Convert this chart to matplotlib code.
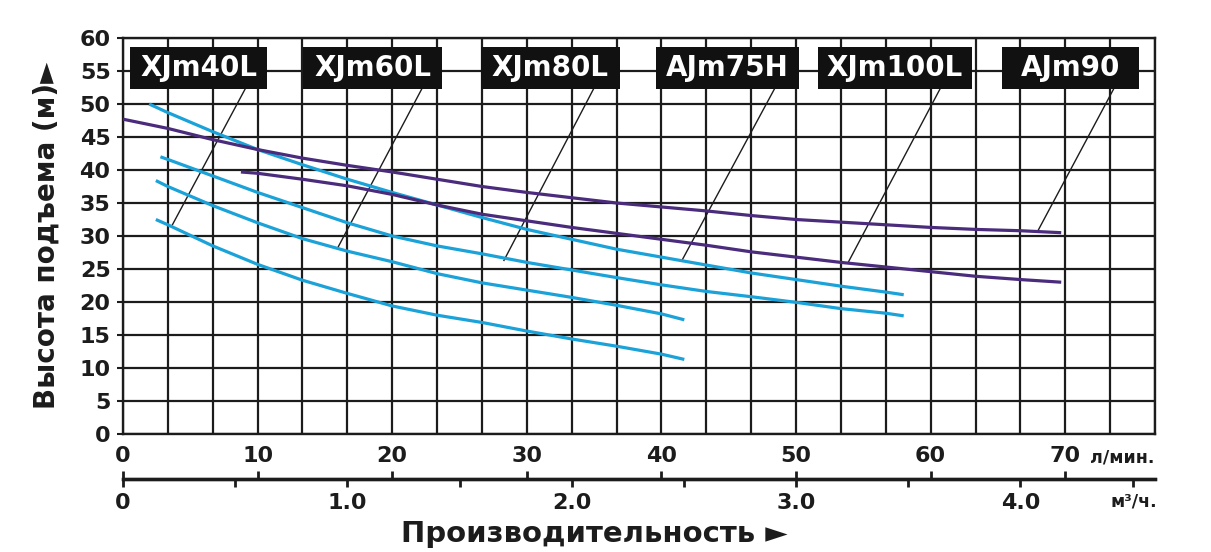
import numpy as np
import matplotlib
matplotlib.use("Agg")
import matplotlib.pyplot as plt
from matplotlib.patches import Rectangle

# ---------------- data (flow in l/min, head in m) ----------------
models = ["XJm40L", "XJm60L", "XJm80L", "AJm75H", "XJm100L", "AJm90"]

x_xjm40l = [2.44, 3.33, 6.67, 10, 13.33, 16.67, 20, 23.33, 26.67, 30, 33.33, 36.67, 40, 41.7]
y_xjm40l = [32.5, 31.7, 28.5, 25.7, 23.3, 21.3, 19.4, 18.0, 16.9, 15.6, 14.4, 13.3, 12.1, 11.3]

x_xjm60l = [2.44, 3.33, 6.67, 10, 13.33, 16.67, 20, 23.33, 26.67, 30, 33.33, 36.67, 40, 41.7]
y_xjm60l = [38.4, 37.5, 34.6, 32.0, 29.6, 27.7, 26.1, 24.3, 22.9, 21.8, 20.7, 19.5, 18.2, 17.3]

x_xjm80l = [2.78, 3.33, 6.67, 10, 13.33, 16.67, 20, 23.33, 26.67, 30, 33.33, 36.67, 40,
            43.33, 46.67, 50, 53.33, 56.67, 58.0]
y_xjm80l = [42.0, 41.6, 39.1, 36.6, 34.3, 32.0, 30.0, 28.5, 27.3, 26.0, 24.85, 23.7, 22.6,
            21.6, 20.8, 19.95, 19.0, 18.3, 17.9]

x_ajm75h = [1.94, 3.33, 6.67, 10, 13.33, 16.67, 20, 23.33, 26.67, 30, 33.33, 36.67, 40,
            43.33, 46.67, 50, 53.33, 56.67, 58.0]
y_ajm75h = [50.0, 48.7, 45.8, 43.1, 40.8, 38.6, 36.6, 34.7, 32.8, 31.0, 29.5, 28.0, 26.8,
            25.6, 24.4, 23.4, 22.4, 21.5, 21.1]

x_xjm100l = [8.76, 10, 13.33, 16.67, 20, 23.33, 26.67, 30, 33.33, 36.67, 40, 43.33, 46.67,
             50, 53.33, 56.67, 60, 63.33, 66.67, 69.7]
y_xjm100l = [39.7, 39.5, 38.6, 37.6, 36.3, 34.7, 33.3, 32.3, 31.3, 30.4, 29.5, 28.6, 27.6,
             26.8, 26.0, 25.3, 24.6, 23.9, 23.4, 23.0]

x_ajm90 = [0, 3.33, 6.67, 10, 13.33, 16.67, 20, 23.33, 26.67, 30, 33.33, 36.67, 40, 43.33,
           46.67, 50, 53.33, 56.67, 60, 63.33, 66.67, 69.7]
y_ajm90 = [47.7, 46.3, 44.6, 43.1, 41.8, 40.7, 39.7, 38.6, 37.5, 36.6, 35.8, 35.0, 34.4, 33.8,
           33.1, 32.5, 32.1, 31.7, 31.3, 31.0, 30.8, 30.5]

# leader-line anchor points on each curve (l/min, m)
leader_end_x = [3.67, 16.0, 28.3, 41.55, 53.9, 67.97]
leader_end_y = [31.7, 28.4, 26.3, 26.4, 26.1, 30.8]

y_ticks = list(range(0, 61, 5))
lpm_ticks = [0, 10, 20, 30, 40, 50, 60, 70]
m3h_ticks = [0, 1, 2, 3, 4]
m3h_labels = ["0", "1.0", "2.0", "3.0", "4.0"]
m3h_minor = [0.5, 1.5, 2.5, 3.5, 4.5]

# ---------------- styling / layout ----------------
CYAN = "#1ba2d8"
PURPLE = "#4a2b7c"
INK = "#1c1c1c"

series = [
    (x_xjm40l, y_xjm40l, CYAN),
    (x_xjm60l, y_xjm60l, CYAN),
    (x_xjm80l, y_xjm80l, CYAN),
    (x_ajm75h, y_ajm75h, CYAN),
    (x_xjm100l, y_xjm100l, PURPLE),
    (x_ajm90, y_ajm90, PURPLE),
]
box_left = [0.52, 13.4, 26.6, 39.6, 51.6, 65.3]
box_right = [10.7, 23.7, 36.9, 50.2, 63.1, 75.5]
box_bottom, box_top = 52.3, 58.7
leader_top_x = [9.08, 22.2, 34.96, 48.4, 60.7, 73.6]

W, H = 1211, 552
fig = plt.figure(figsize=(W / 100, H / 100), dpi=100)
ax = fig.add_axes([123 / W, (H - 434) / H, (1155 - 123) / W, (434 - 38) / H])

XMAX = 23 * 10 / 3
ax.set_xlim(0, XMAX)
ax.set_ylim(0, 60)

# grid
ax.set_xticks(lpm_ticks)
ax.set_xticks(np.arange(0, XMAX + 0.01, 10 / 3), minor=True)
ax.set_yticks(y_ticks)
ax.grid(True, which="both", axis="x", color=INK, lw=1.6, zorder=0)
ax.grid(True, which="major", axis="y", color=INK, lw=1.6, zorder=0)
ax.set_axisbelow(True)
for s in ax.spines.values():
    s.set_linewidth(1.7)
    s.set_color(INK)

ax.tick_params(axis="x", which="both", length=0, pad=9, labelsize=16, colors=INK)
ax.tick_params(axis="y", which="major", length=4, width=1.5, pad=5, labelsize=16, colors=INK)
ax.set_xticklabels([str(t) for t in lpm_ticks], fontweight="bold")
ax.set_yticklabels([str(t) for t in y_ticks], fontweight="bold")

# curves
for xs, ys, c in series:
    ax.plot(xs, ys, color=c, lw=2.3, solid_capstyle="butt", zorder=3)

# leaders and labels
for i, name in enumerate(models):
    ax.plot([leader_top_x[i], leader_end_x[i]], [box_bottom, leader_end_y[i]],
            color=INK, lw=1.0, zorder=2.5)
    ax.add_patch(Rectangle((box_left[i], box_bottom), box_right[i] - box_left[i],
                           box_top - box_bottom, facecolor="#111111", edgecolor="none",
                           zorder=4))
    ax.text((box_left[i] + box_right[i]) / 2, (box_bottom + box_top) / 2, name,
            color="white", fontsize=20, fontweight="bold", ha="center", va="center",
            zorder=5)

# secondary axis (m3/h) with l/min ticks pointing up
loc = -(479 - 434) / (434 - 38)
secA = ax.secondary_xaxis(loc, functions=(lambda v: v * 0.06, lambda v: v / 0.06))
secA.set_xticks(m3h_ticks)
secA.set_xticklabels(m3h_labels, fontweight="bold")
secA.set_xticks(m3h_minor, minor=True)
secA.tick_params(which="both", direction="out", length=6, width=2.0, pad=4,
                 labelsize=16, colors=INK)
secA.spines["bottom"].set_linewidth(2.4)
secA.spines["bottom"].set_color(INK)

secB = ax.secondary_xaxis(loc)
secB.set_xticks(lpm_ticks)
secB.tick_params(which="both", direction="in", length=5.5, width=2.0, labelbottom=False,
                 colors=INK)
secB.spines["bottom"].set_linewidth(2.4)
secB.spines["bottom"].set_color(INK)

# units and axis titles
fig.text(1090 / W, 1 - 458 / H, "л/мин.", fontsize=12.5, fontweight="bold", color=INK,
         ha="left", va="center")
fig.text(1111 / W, 1 - 501 / H, "м³/ч.", fontsize=12.5, fontweight="bold", color=INK,
         ha="left", va="center")
fig.text(47 / W, 1 - 235 / H, "Высота подъема (м)►", rotation=90, fontsize=20,
         fontweight="bold", color=INK, ha="center", va="center")
fig.text(594 / W, 1 - 534 / H, "Производительность ►", fontsize=21, fontweight="bold",
         color=INK, ha="center", va="center")

fig.savefig("out.png", dpi=100, facecolor="white")
